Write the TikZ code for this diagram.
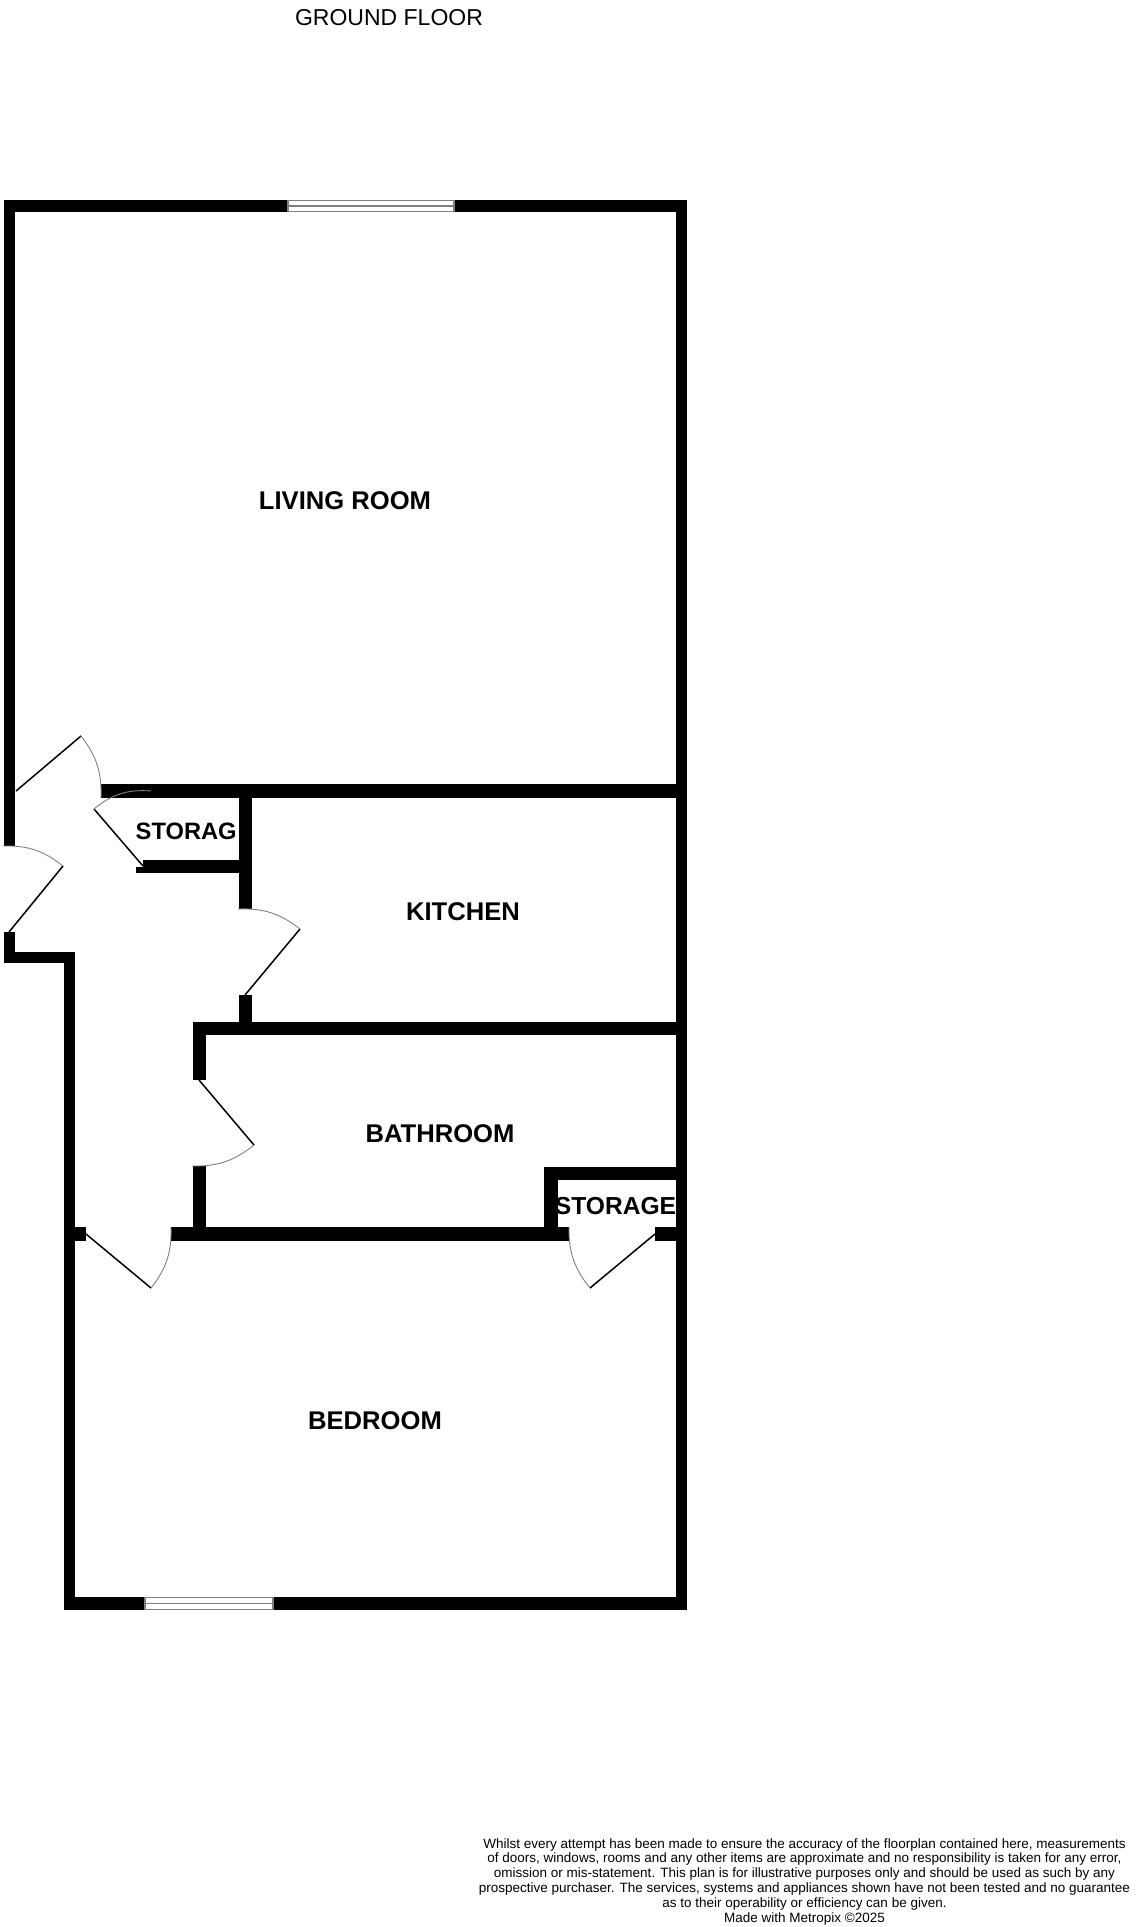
\documentclass[tikz,border=0pt]{standalone}
\usepackage{fontspec}
\setmainfont{Liberation Sans}
\definecolor{swinggray}{gray}{0.5}
\tikzset{
  wall/.style={fill=black},
  doorleaf/.style={draw=black,line width=1.5pt},
  doorswing/.style={draw=swinggray,line width=0.9pt},
  glazing/.style={draw=swinggray,line width=1.4pt},
  roomlabel/.style={font=\bfseries\fontsize{25.6}{30}\selectfont,inner sep=0pt},
  storelabel/.style={font=\bfseries\fontsize{24.6}{30}\selectfont,inner sep=0pt}
}
\begin{document}
\begin{tikzpicture}[x=1pt,y=-1pt]
  \useasboundingbox (0,0) rectangle (1136,1927);
  \node[inner sep=0pt,font=\fontsize{23}{28}\selectfont] (title) at (389,18) {GROUND FLOOR};
  \node[roomlabel] (living) at (345,501) {LIVING ROOM};
  \node[roomlabel] (kitchen) at (463,912) {KITCHEN};
  \node[roomlabel] (bathroom) at (440,1134) {BATHROOM};
  \node[roomlabel] (bedroom) at (375,1421) {BEDROOM};
  \node[storelabel,anchor=west,font=\bfseries\fontsize{23.7}{30}\selectfont] (storeone) at (135.5,831) {STORAG};
  \node[storelabel] (storetwo) at (615.5,1206) {STORAGE};
  \node[inner sep=0pt,align=center,font=\fontsize{13.5}{14.8}\selectfont] (note) at (804.5,1881.5) {%
    Whilst every attempt has been made to ensure the accuracy of the floorplan contained here, measurements\\
    of doors, windows, rooms and any other items are approximate and no responsibility is taken for any error,\\
    omission or mis-statement. This plan is for illustrative purposes only and should be used as such by any\\
    prospective purchaser. The services, systems and appliances shown have not been tested and no guarantee\\
    as to their operability or efficiency can be given.\\
    Made with Metropix \textcopyright 2025};
  % outer walls
  \fill[wall] (4,200) rectangle (288,212);
  \fill[wall] (454,200) rectangle (687,212);
  \fill[wall] (4,200) rectangle (15,846);
  \fill[wall] (676,200) rectangle (687,1610);
  \fill[wall] (4,932) rectangle (15,963);
  \fill[wall] (4,952) rectangle (75,963);
  \fill[wall] (64,952) rectangle (75,1610);
  \fill[wall] (64,1597) rectangle (145,1610);
  \fill[wall] (273,1597) rectangle (687,1610);
  % inner walls
  \fill[wall] (101,784) rectangle (676,798);
  \fill[wall] (239,784) rectangle (252,909);
  \fill[wall] (143,860) rectangle (239,873);
  \fill[wall] (136,867) rectangle (143,873);
  \fill[wall] (239,995) rectangle (252,1022);
  \fill[wall] (193,1022) rectangle (676,1035);
  \fill[wall] (193,1022) rectangle (206,1080);
  \fill[wall] (193,1166) rectangle (206,1227);
  \fill[wall] (171,1227) rectangle (569,1241);
  \fill[wall] (64,1227) rectangle (86,1241);
  \fill[wall] (655,1227) rectangle (676,1241);
  \fill[wall] (544,1167) rectangle (676,1180);
  \fill[wall] (544,1167) rectangle (558,1227);
  % windows
  \draw[glazing] (288,200.5) rectangle (454,211.5);
  \draw[glazing] (288,206) -- (454,206);
  \draw[glazing] (145,1597.5) rectangle (273,1609.5);
  \draw[glazing] (145,1603.5) -- (273,1603.5);
  % doors
  \draw[doorleaf] (16,791) -- (81,736);
  \draw[doorswing] (81,736) to[bend left=20] (101,798);
  \draw[doorleaf] (143,866) -- (94,809);
  \draw[doorswing] (94,809) to[bend left=22] (151,791);
  \draw[doorleaf] (9,932) -- (63,866);
  \draw[doorswing] (3,846) to[bend left=20] (63,866);
  \draw[doorleaf] (245,995) -- (300,929);
  \draw[doorswing] (238,909) to[bend left=20] (300,929);
  \draw[doorleaf] (199,1080) -- (254,1145);
  \draw[doorswing] (254,1145) to[bend left=20] (192,1166);
  \draw[doorleaf] (86,1234) -- (151,1288);
  \draw[doorswing] (151,1288) to[bend right=20] (171,1227);
  \draw[doorleaf] (655,1234) -- (590,1288);
  \draw[doorswing] (590,1288) to[bend left=20] (569,1227);
\end{tikzpicture}
\end{document}
